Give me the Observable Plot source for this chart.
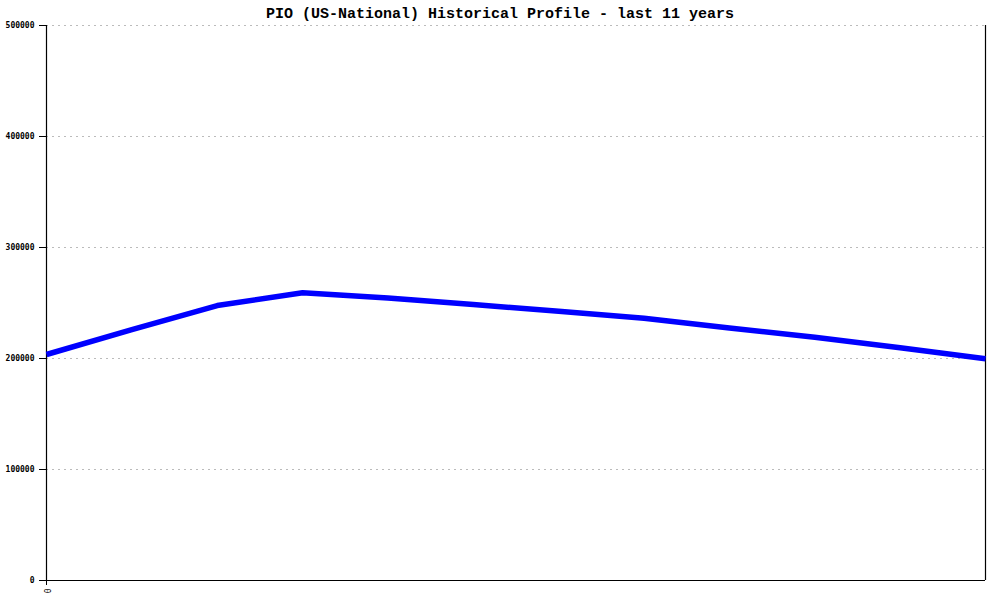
<!DOCTYPE html>
<html>
<head>
<meta charset="utf-8">
<script src="https://cdn.jsdelivr.net/npm/d3@7"></script>
<script src="https://cdn.jsdelivr.net/npm/@observablehq/plot@0.6"></script>
<style>
  html, body { margin: 0; padding: 0; background: #fff; }
  #title { height: 20px; line-height: 30px; text-align: center; font-family: "Liberation Mono", "DejaVu Sans Mono", monospace; font-weight: bold; font-size: 15px; color: #000; width: 1000px; overflow: visible; }
  #chart svg { display: block; }
</style>
</head>
<body>
<div id="title">PIO (US-National) Historical Profile - last 11 years</div>
<div id="chart"></div>
<script>
const titleText = "PIO (US-National) Historical Profile - last 11 years";
const pointIndex = [0, 1, 2, 3, 4, 5, 6, 7, 8, 9, 10, 11];
const population = [203600, 226000, 247700, 259300, 254500, 248600, 242600, 236200, 227500, 219200, 209600, 199700];
const yTicks = [0, 100000, 200000, 300000, 400000, 500000];
const xTicks = [0];
const xTickLabels = ["0"];

document.getElementById("title").textContent = titleText;
const data = pointIndex.map((x, i) => ({x, y: population[i]}));

const chart = Plot.plot({
  width: 1000,
  height: 580,
  marginTop: 5,
  marginBottom: 20,
  marginLeft: 46,
  marginRight: 15,
  style: { fontFamily: "'DejaVu Sans Mono', monospace", fontSize: "8px", color: "#000", background: "#fff" },
  x: { domain: [0, 11] },
  y: { domain: [0, 500000] },
  marks: [
    Plot.gridY(yTicks.slice(1), { stroke: "#bbbbbb", strokeOpacity: 1, strokeDasharray: "2,4" }),
    Plot.axisY({ ticks: yTicks, tickFormat: d => String(d), tickSize: 7, tickPadding: 5, label: null, fontSize: 8, fontWeight: "bold" }),
    Plot.axisX({ ticks: xTicks, tickFormat: (d, i) => xTickLabels[i], tickSize: 5, tickPadding: 3, tickRotate: 90, label: null, fontSize: 8 }),
    Plot.ruleX([0, 11], { stroke: "#000", strokeWidth: 1.2 }),
    Plot.ruleY([0], { stroke: "#000", strokeWidth: 1.2 }),
    Plot.line(data, { x: "x", y: "y", stroke: "#0000ff", strokeWidth: 5.5, strokeLinejoin: "round", strokeLinecap: "butt" })
  ]
});
document.getElementById("chart").appendChild(chart);
</script>
</body>
</html>
